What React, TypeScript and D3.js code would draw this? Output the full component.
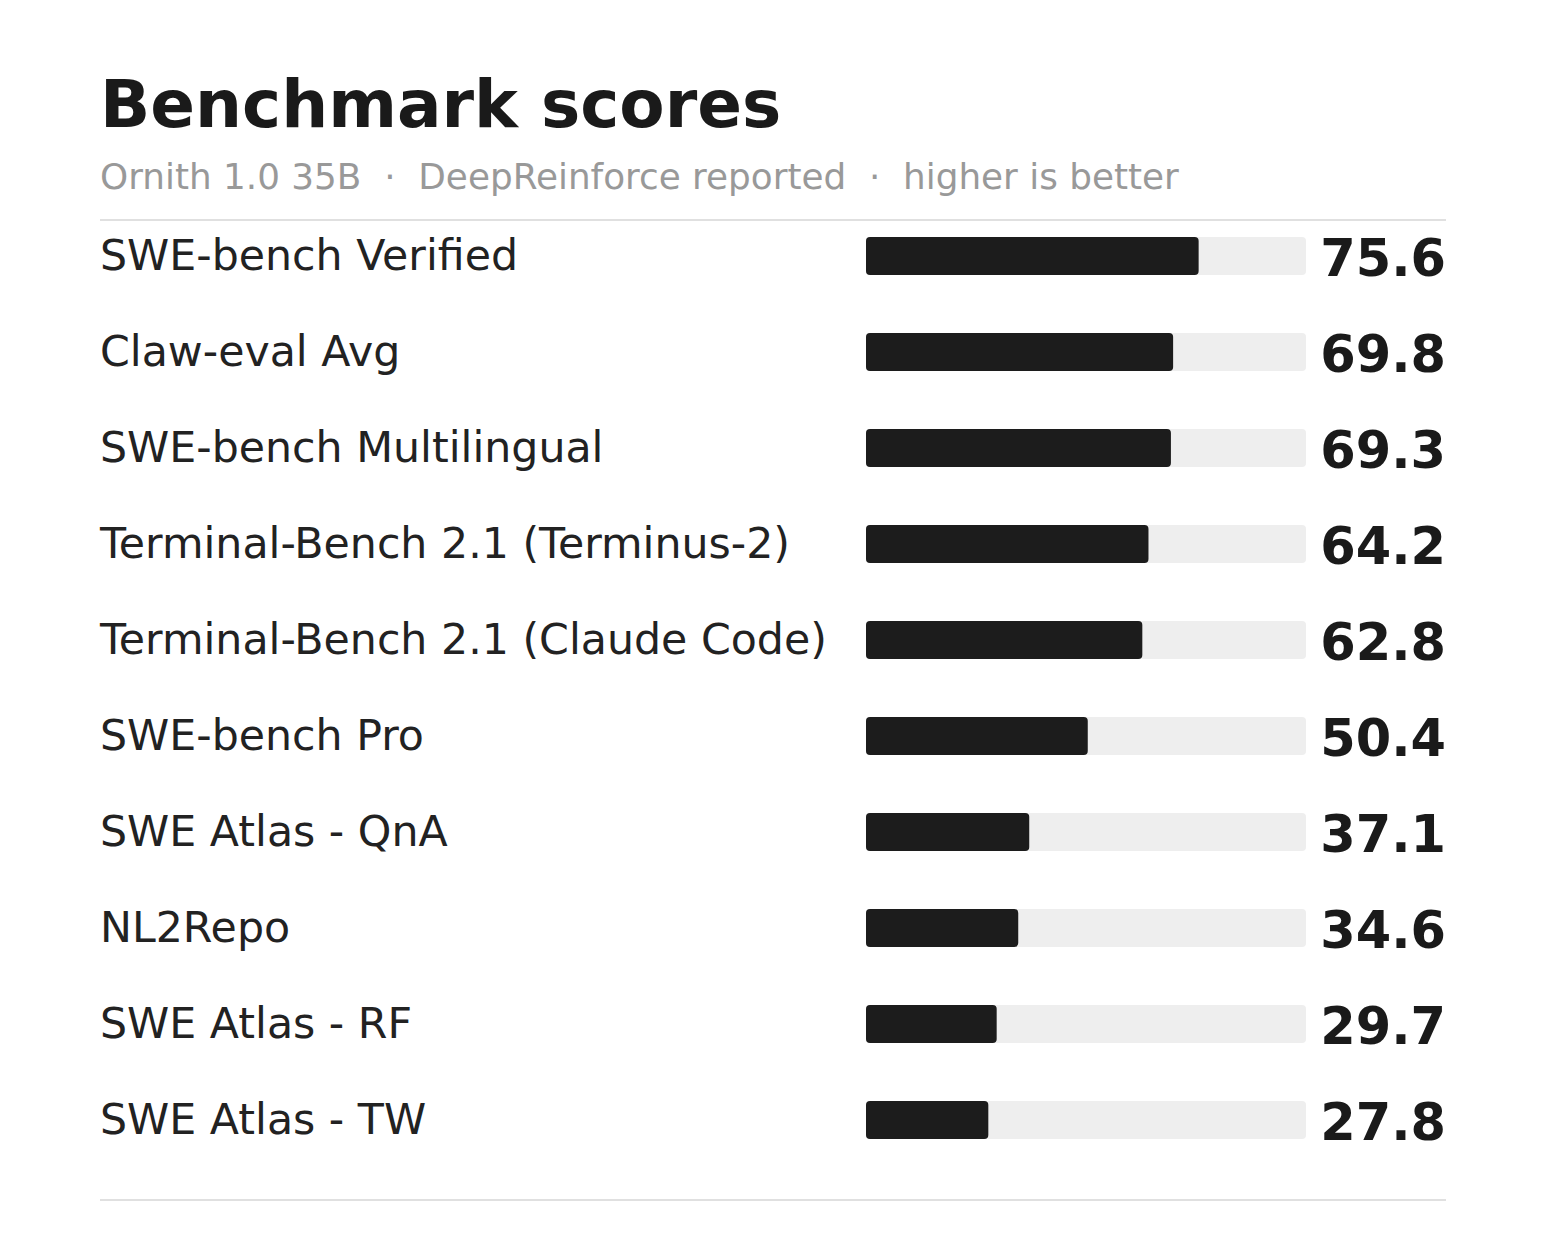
import React from "react";
import * as d3 from "d3";

const categories: string[] = [
  "SWE-bench Verified",
  "Claw-eval Avg",
  "SWE-bench Multilingual",
  "Terminal-Bench 2.1 (Terminus-2)",
  "Terminal-Bench 2.1 (Claude Code)",
  "SWE-bench Pro",
  "SWE Atlas - QnA",
  "NL2Repo",
  "SWE Atlas - RF",
  "SWE Atlas - TW",
];
const scores: number[] = [75.6, 69.8, 69.3, 64.2, 62.8, 50.4, 37.1, 34.6, 29.7, 27.8];
const title = "Benchmark scores";
const subtitle = "Ornith 1.0 35B  \u00b7  DeepReinforce reported  \u00b7  higher is better";

const W = 1546;
const H = 1240;
const FONT = "'DejaVu Sans', sans-serif";

export default function App() {
  const left = 100;
  const right = 1446;
  const x = d3.scaleLinear().domain([0, 100]).range([866, 1306]);
  const y = d3
    .scaleBand<string>()
    .domain(categories)
    .range([208, 1168])
    .paddingInner(0)
    .paddingOuter(0);
  const barH = 38;

  return (
    <svg
      width={W}
      height={H}
      style={{ position: "absolute", left: 0, top: 0, background: "#fff" }}
      fontFamily={FONT}
    >
      <rect x={0} y={0} width={W} height={H} fill="#ffffff" />
      <text x={left} y={127} fontSize={66} fontWeight="bold" fill="#1a1a1a">
        {title}
      </text>
      <text x={left} y={189} fontSize={35.8} fill="#999999" style={{ whiteSpace: "pre" }}>
        {subtitle}
      </text>
      <line x1={left} x2={right} y1={220} y2={220} stroke="#e0e0e0" strokeWidth={2} />
      <line x1={left} x2={right} y1={1200} y2={1200} stroke="#e0e0e0" strokeWidth={2} />
      {categories.map((c, i) => {
        const cy = (y(c) as number) + y.bandwidth() / 2;
        return (
          <g key={c}>
            <text x={left} y={cy + 14} fontSize={42.7} fill="#222222">
              {c}
            </text>
            <rect
              x={x(0)}
              y={cy - barH / 2}
              width={x(100) - x(0)}
              height={barH}
              rx={4}
              fill="#eeeeee"
            />
            <rect
              x={x(0)}
              y={cy - barH / 2}
              width={x(scores[i]) - x(0)}
              height={barH}
              rx={4}
              fill="#1c1c1c"
            />
            <text
              x={right}
              y={cy + 20}
              fontSize={51}
              fontWeight="bold"
              textAnchor="end"
              fill="#1a1a1a"
            >
              {scores[i].toFixed(1)}
            </text>
          </g>
        );
      })}
    </svg>
  );
}
